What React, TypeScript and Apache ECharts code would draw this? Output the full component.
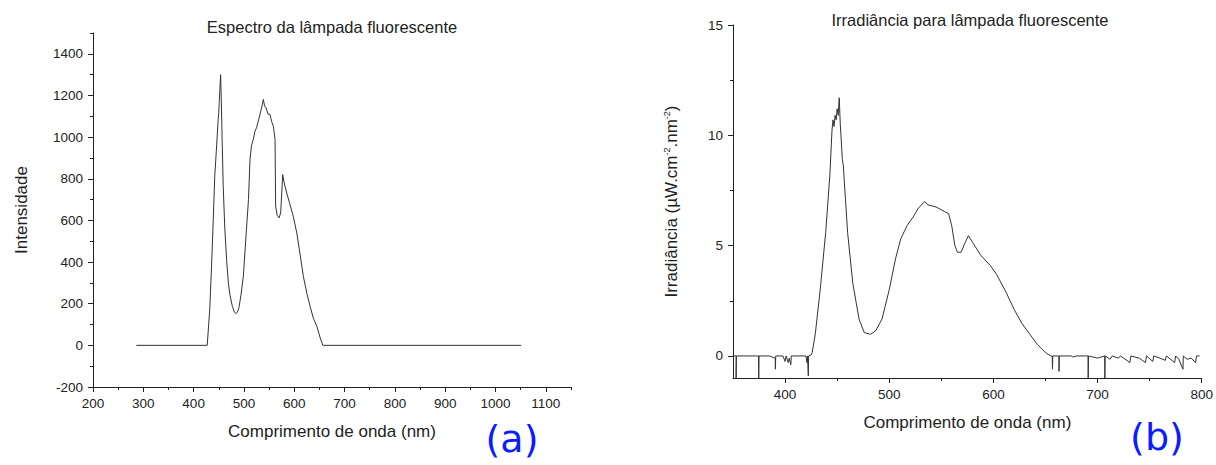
import React, { useEffect, useRef } from "react";
import * as echarts from "echarts";

// (a) Espectro: [comprimento de onda (nm), intensidade]
const specA: [number, number][] = [
  [286, 0], [427, 0], [432, 171], [435.6, 380], [439, 604], [442, 812], [445, 930],
  [448.8, 1084], [450, 1120], [450.8, 1165], [452, 1220], [453.6, 1300], [455, 1181],
  [456, 1060], [458.8, 764], [462, 560], [465.5, 412], [469, 300], [472.3, 240],
  [477, 187], [481, 160], [484, 152], [487, 160], [490, 180], [494, 240], [498.8, 332],
  [505.4, 572], [509, 700], [512, 893], [515, 960], [518.6, 989], [522, 1029],
  [525, 1045], [528.5, 1077], [532, 1110], [535, 1140], [538.5, 1181], [541, 1150],
  [544, 1140], [548, 1110], [551.8, 1109], [555, 1075], [558.4, 1053], [561.8, 989],
  [563, 668], [566, 625], [569.7, 612], [573, 636], [577, 820], [580, 780], [585, 732],
  [591, 680], [598, 620], [605, 540], [612, 430], [618, 332], [625, 250], [631.5, 187],
  [638, 130], [645, 91], [651, 40], [656.8, 0], [1051, 0],
];

// (b) Irradiância: [comprimento de onda (nm), µW.cm-2.nm-2]
const irrB: [number, number][] = [
  [351, 0], [353, 0], [353, -1], [353.3, 0], [374.5, 0], [374.7, -1], [375, 0],
  [385, 0], [390.5, -0.1], [390.7, -0.6], [391, 0], [398, 0], [400, -0.25], [401, 0],
  [403, -0.3], [404, -0.1], [405.5, -0.4], [406, 0], [420, 0], [421, -0.3], [421.5, 0],
  [422.3, -0.9], [422.6, 0], [425, 0.05],
  [426, 0.15], [429, 1.0], [433.5, 2.9], [439, 5.6], [443, 8.2], [445, 10.2],
  [446, 10.7], [447, 10.4], [448, 10.9], [449, 10.7], [450, 11.2], [451, 10.9],
  [452, 11.7], [453, 10.5], [455, 8.9], [456, 8.6], [457, 7.8], [458, 7.1], [460, 5.6],
  [465, 3.3], [471, 1.67], [476, 1.06], [482, 0.98], [487, 1.14], [493, 1.67],
  [500, 3.0], [506, 4.4], [511, 5.3], [517, 5.9], [523, 6.3], [528, 6.7], [534, 7.0],
  [537, 6.85], [541, 6.8], [545, 6.75], [549, 6.65], [553, 6.55], [557, 6.45],
  [560, 5.9], [563, 5.0], [565.5, 4.7], [569, 4.7], [573, 5.15], [576, 5.45],
  [580, 5.15], [588, 4.55], [597, 4.1], [603, 3.7], [612, 2.9], [620, 2.1],
  [627, 1.5], [635, 0.98], [642, 0.53], [650, 0.15], [655, 0],
  [656.5, 0], [656.7, -0.6], [657, 0], [662.8, 0], [663, -0.7], [663.3, 0], [675, 0],
  [676, -0.05], [680, 0], [690.8, 0], [691, -1], [691.3, 0], [700, -0.1], [706.8, 0],
  [707, -1], [707.3, 0], [712, -0.15], [714, 0], [720, -0.1], [722, 0], [731, -0.3],
  [732, 0], [740, -0.1], [746, -0.3], [747, 0], [753, -0.25], [754, 0], [760, -0.1],
  [765, -0.2], [766, 0], [774, -0.3], [775, 0], [778, -0.15], [782, -0.6],
  [782.3, 0], [786, -0.15], [790, -0.1], [794, -0.3], [795, 0], [798, 0],
];

const aXTicks = [200, 300, 400, 500, 600, 700, 800, 900, 1000, 1100];
const aXMinor = [250, 350, 450, 550, 650, 750, 850, 950, 1050, 1150];
const aYTicks = [-200, 0, 200, 400, 600, 800, 1000, 1200, 1400];
const aYMinor = [-100, 100, 300, 500, 700, 900, 1100, 1300, 1500];
const bXTicks = [400, 500, 600, 700, 800];
const bXMinor = [450, 550, 650, 750];
const bYTicks = [0, 5, 10, 15];
const bYMinor = [2.5, 7.5, 12.5];

const titleA = "Espectro da lâmpada fluorescente";
const titleB = "Irradiância para lâmpada fluorescente";
const xName = "Comprimento de onda (nm)";
const yNameA = "Intensidade";
const yNameB = "{a|Irradiância (µW.cm}{s|-2}{a|.nm}{s|-2}{a|)}";
const tagA = "(a)";
const tagB = "(b)";

const FONT = "'Liberation Sans', Arial, sans-serif";
const INK = "#222";

function majorAxis(extra: any, ticks: number[], margin: number) {
  return {
    type: "value",
    axisLine: { show: true, onZero: false, lineStyle: { color: INK, width: 1 } },
    axisTick: { show: true, inside: false, length: 5, customValues: ticks, lineStyle: { color: INK } },
    axisLabel: {
      show: true, customValues: ticks, fontSize: 13.5, color: INK, fontFamily: FONT, margin,
      formatter: (v: number) => String(v),
    },
    splitLine: { show: false },
    nameTextStyle: { fontSize: 17, color: INK, fontFamily: FONT },
    ...extra,
  };
}

function minorAxis(extra: any, ticks: number[]) {
  return {
    type: "value",
    axisLine: { show: false, onZero: false },
    axisTick: { show: true, inside: false, length: 3, customValues: ticks, lineStyle: { color: INK } },
    axisLabel: { show: false },
    splitLine: { show: false },
    ...extra,
  };
}

export default function App() {
  const ref = useRef<HTMLDivElement>(null);
  useEffect(() => {
    if (!ref.current) return;
    const chart = echarts.init(ref.current, null, { renderer: "svg" });
    chart.setOption({
      animation: false,
      backgroundColor: "#ffffff",
      grid: [
        { left: 93, top: 33, width: 478, height: 354 },
        { left: 733, top: 25, width: 474, height: 353 },
      ],
      xAxis: [
        majorAxis({ gridIndex: 0, min: 200, max: 1150, position: "bottom", name: xName, nameLocation: "middle", nameGap: 36 }, aXTicks, 9),
        minorAxis({ gridIndex: 0, min: 200, max: 1150, position: "bottom" }, aXMinor),
        majorAxis({ gridIndex: 1, min: 350, max: 800, position: "bottom", name: xName, nameLocation: "middle", nameGap: 36 }, bXTicks, 9),
        minorAxis({ gridIndex: 1, min: 350, max: 800, position: "bottom" }, bXMinor),
      ],
      yAxis: [
        majorAxis({ gridIndex: 0, min: -200, max: 1500, position: "left", name: yNameA, nameLocation: "middle", nameGap: 63, nameRotate: 90 }, aYTicks, 10),
        minorAxis({ gridIndex: 0, min: -200, max: 1500, position: "left" }, aYMinor),
        majorAxis({
          gridIndex: 1, min: -1, max: 15, position: "left", name: yNameB, nameLocation: "middle", nameGap: 52, nameRotate: 90,
          nameTextStyle: {
            fontSize: 17, color: INK, fontFamily: FONT,
            rich: {
              a: { fontSize: 17, color: INK, fontFamily: FONT, lineHeight: 19 },
              s: { fontSize: 9, color: INK, fontFamily: FONT, verticalAlign: "top", lineHeight: 19 },
            },
          },
        }, bYTicks, 10),
        minorAxis({ gridIndex: 1, min: -1, max: 15, position: "left" }, bYMinor),
      ],
      series: [
        {
          type: "line", xAxisIndex: 0, yAxisIndex: 0, data: specA, showSymbol: false, symbol: "none",
          lineStyle: { color: "#333", width: 1 }, silent: true,
        },
        {
          type: "line", xAxisIndex: 2, yAxisIndex: 2, data: irrB, showSymbol: false, symbol: "none",
          lineStyle: { color: "#333", width: 1 }, silent: true,
        },
      ],
      graphic: [
        {
          type: "text", x: 332, y: 27, silent: true,
          style: { text: titleA, fontSize: 16.5, fontFamily: FONT, fill: INK, align: "center", verticalAlign: "middle", textAlign: "center", textVerticalAlign: "middle" },
        },
        {
          type: "text", x: 970, y: 20, silent: true,
          style: { text: titleB, fontSize: 16.5, fontFamily: FONT, fill: INK, align: "center", verticalAlign: "middle", textAlign: "center", textVerticalAlign: "middle" },
        },
        {
          type: "text", x: 512, y: 439, silent: true,
          style: { text: tagA, fontSize: 38, fontFamily: "'DejaVu Sans', sans-serif", fill: "#0b1cff", align: "center", verticalAlign: "middle", textAlign: "center", textVerticalAlign: "middle" },
        },
        {
          type: "text", x: 1157, y: 437, silent: true,
          style: { text: tagB, fontSize: 38, fontFamily: "'DejaVu Sans', sans-serif", fill: "#0b1cff", align: "center", verticalAlign: "middle", textAlign: "center", textVerticalAlign: "middle" },
        },
      ],
    });
    return () => chart.dispose();
  }, []);
  return (
    <div
      ref={ref}
      style={{ position: "fixed", left: 0, top: 0, width: 1216, height: 465, background: "#fff" }}
    />
  );
}
